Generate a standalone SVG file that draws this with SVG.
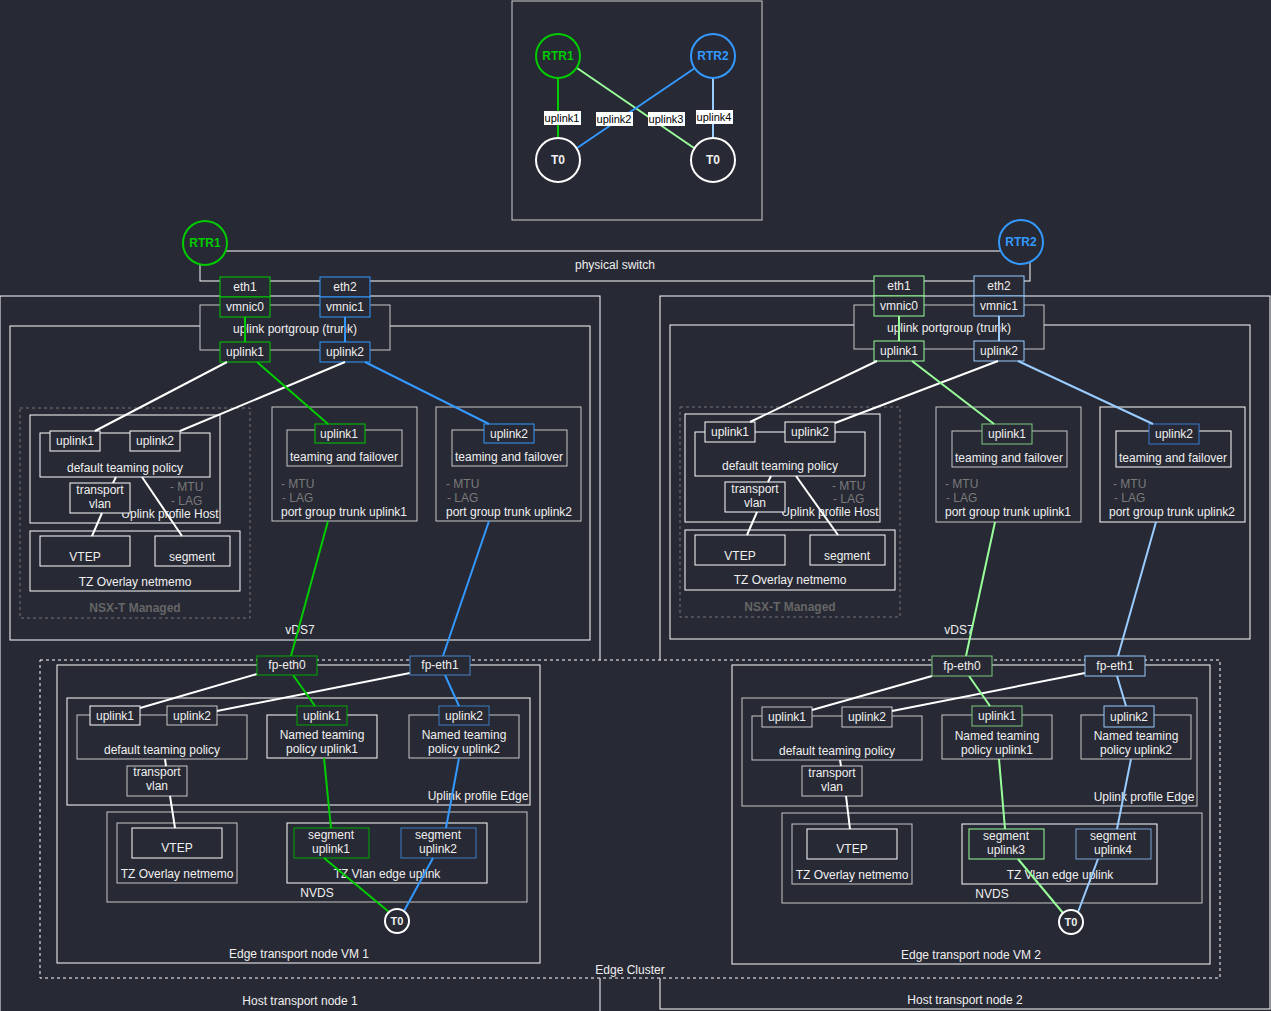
<svg xmlns="http://www.w3.org/2000/svg" width="1271" height="1011" viewBox="0 0 1271 1011">
<style>
.bx{fill:#272934;stroke:#ffffff;stroke-width:1}
.gb{fill:#272934;stroke:#c8c8c8;stroke-width:1}
.ds{fill:#272934;stroke:#ffffff;stroke-width:1;stroke-dasharray:3 3}
.nsx{fill:none;stroke:#777;stroke-width:1;stroke-dasharray:3 3}
.t{fill:#f0f0f0;font-family:"Liberation Sans",Arial,sans-serif;font-size:12px;text-anchor:middle;dominant-baseline:central}
.tl{fill:#7a7a7a;font-family:"Liberation Sans",Arial,sans-serif;font-size:12px;text-anchor:start;dominant-baseline:central}
.lb{fill:#000;font-family:"Liberation Sans",Arial,sans-serif;font-size:11px;text-anchor:middle;dominant-baseline:central}
.bold{font-weight:bold}
.ln{fill:none;stroke-width:2}
.w{stroke:#ffffff}
.G{stroke:#00cc00}
.B{stroke:#3399ff}
.LG{stroke:#99ff99}
.LB{stroke:#99ccff}
</style>
<rect x="0" y="0" width="1271" height="1011" fill="#272934"/>

<!-- top overview -->
<g id="overview">
<rect x="512" y="1" width="250" height="219" fill="none" stroke="#d0d0d0" stroke-width="1"/>
</g>
<g id="top-links">
<line class="ln G" x1="558" y1="78" x2="558" y2="138"/>
<line class="ln LG" x1="577" y1="68" x2="694" y2="148"/>
<line class="ln B" x1="695" y1="68" x2="577" y2="148"/>
<line class="ln LB" x1="713" y1="78" x2="713" y2="138"/>
<rect x="544" y="111" width="37" height="14" fill="#fff"/><text class="lb" x="562" y="118">uplink1</text>
<rect x="596" y="112" width="37" height="14" fill="#fff"/><text class="lb" x="614" y="119">uplink2</text>
<rect x="648" y="112" width="37" height="14" fill="#fff"/><text class="lb" x="666" y="119">uplink3</text>
<rect x="696" y="110" width="37" height="14" fill="#fff"/><text class="lb" x="714" y="117">uplink4</text>
</g>
<g id="top-rtr1"><circle cx="558" cy="56" r="22" fill="#272934" stroke="#00cc00" stroke-width="2"/><text class="t bold" x="558" y="56" style="fill:#00cc00">RTR1</text></g>
<g id="top-rtr2"><circle cx="713" cy="56" r="22" fill="#272934" stroke="#3399ff" stroke-width="2"/><text class="t bold" x="713" y="56" style="fill:#3399ff">RTR2</text></g>
<g id="top-t0a"><circle cx="558" cy="160" r="22" fill="#272934" stroke="#fff" stroke-width="2"/><text class="t bold" x="558" y="160">T0</text></g>
<g id="top-t0b"><circle cx="713" cy="160" r="22" fill="#272934" stroke="#fff" stroke-width="2"/><text class="t bold" x="713" y="160">T0</text></g>

<!-- physical switch -->
<g id="physical-switch"><rect class="bx" x="200" y="251" width="830" height="30"/><text class="t" x="615" y="265">physical switch</text></g>
<g id="rtr1"><circle cx="205" cy="243" r="22" fill="#272934" stroke="#00cc00" stroke-width="2"/><text class="t bold" x="205" y="243" style="fill:#00cc00">RTR1</text></g>
<g id="rtr2"><circle cx="1021" cy="242" r="22" fill="#272934" stroke="#3399ff" stroke-width="2"/><text class="t bold" x="1021" y="242" style="fill:#3399ff">RTR2</text></g>

<!-- Host transport nodes -->
<g id="host1"><rect class="bx" x="0" y="296" width="600" height="720"/><text class="t" x="300" y="1001">Host transport node 1</text></g>
<g id="host2"><rect class="bx" x="660" y="296" width="610" height="713"/><text class="t" x="965" y="1000">Host transport node 2</text></g>

<!-- host1 vDS -->
<g id="vds1"><rect class="bx" x="10" y="326" width="580" height="314"/><text class="t" x="300" y="630">vDS7</text></g>
<g id="pg-trunk1"><rect class="gb" x="200" y="305" width="190" height="45"/><text class="t" x="295" y="329">uplink portgroup (trunk)</text></g>
<g id="h1-eth1"><rect class="bx" x="220" y="277" width="50" height="20" style="stroke:#00cc00"/><text class="t" x="245" y="287">eth1</text></g>
<g id="h1-eth2"><rect class="bx" x="320" y="277" width="50" height="20" style="stroke:#3399ff"/><text class="t" x="345" y="287">eth2</text></g>
<g id="h1-vmnic0"><rect class="bx" x="220" y="297" width="50" height="20" style="stroke:#00cc00"/><text class="t" x="245" y="307">vmnic0</text></g>
<g id="h1-vmnic1"><rect class="bx" x="320" y="297" width="50" height="20" style="stroke:#3399ff"/><text class="t" x="345" y="307">vmnic1</text></g>
<g id="h1-uplink1"><rect class="bx" x="220" y="342" width="50" height="20" style="stroke:#00cc00"/><text class="t" x="245" y="352">uplink1</text></g>
<g id="h1-uplink2"><rect class="bx" x="320" y="342" width="50" height="20" style="stroke:#3399ff"/><text class="t" x="345" y="352">uplink2</text></g>

<g id="h1-nsx"><rect class="nsx" x="20" y="408" width="230" height="210"/><text class="t bold" x="135" y="608" style="fill:#666">NSX-T Managed</text></g>
<g id="h1-upprofile"><rect class="bx" x="30" y="415" width="190" height="108"/>
<text class="tl" x="170" y="487">- MTU</text><text class="tl" x="171" y="501">- LAG</text>
<text class="t" x="170" y="514">Uplink profile Host</text></g>
<g id="h1-default"><rect class="bx" x="40" y="433" width="170" height="44"/><text class="t" x="125" y="468">default teaming policy</text></g>
<g id="h1-du1"><rect class="bx" x="50" y="431" width="50" height="20"/><text class="t" x="75" y="441">uplink1</text></g>
<g id="h1-du2"><rect class="bx" x="130" y="431" width="50" height="20"/><text class="t" x="155" y="441">uplink2</text></g>
<g id="h1-tvlan"><rect class="bx" x="70" y="483" width="60" height="30"/><text class="t" x="100" y="490">transport</text><text class="t" x="100" y="504">vlan</text></g>
<g id="h1-tz"><rect class="bx" x="30" y="531" width="210" height="60"/><text class="t" x="135" y="582">TZ Overlay netmemo</text></g>
<g id="h1-vtep"><rect class="bx" x="40" y="536" width="90" height="30"/><text class="t" x="85" y="557">VTEP</text></g>
<g id="h1-seg"><rect class="bx" x="155" y="536" width="75" height="30"/><text class="t" x="192" y="557">segment</text></g>

<g id="h1-pgu1"><rect class="gb" x="272" y="407" width="145" height="114"/>
<text class="tl" x="281" y="484">- MTU</text><text class="tl" x="282" y="498">- LAG</text>
<text class="t" x="344" y="512">port group trunk uplink1</text></g>
<g id="h1-tf1"><rect class="gb" x="287" y="430" width="115" height="36"/><text class="t" x="344" y="457">teaming and failover</text></g>
<g id="h1-tfu1"><rect class="bx" x="315" y="424" width="50" height="19" style="stroke:#00cc00"/><text class="t" x="339" y="434">uplink1</text></g>
<g id="h1-pgu2"><rect class="gb" x="436" y="407" width="145" height="114"/>
<text class="tl" x="446" y="484">- MTU</text><text class="tl" x="447" y="498">- LAG</text>
<text class="t" x="509" y="512">port group trunk uplink2</text></g>
<g id="h1-tf2"><rect class="gb" x="452" y="430" width="115" height="36"/><text class="t" x="509" y="457">teaming and failover</text></g>
<g id="h1-tfu2"><rect class="bx" x="484" y="424" width="50" height="19" style="stroke:#3399ff"/><text class="t" x="509" y="434">uplink2</text></g>

<!-- host2 vDS -->
<g id="vds2"><rect class="bx" x="670" y="325" width="580" height="314"/><text class="t" x="959" y="630">vDS7</text></g>
<g id="pg-trunk2"><rect class="gb" x="854" y="305" width="190" height="44"/><text class="t" x="949" y="328">uplink portgroup (trunk)</text></g>
<g id="h2-eth1"><rect class="bx" x="874" y="276" width="50" height="20" style="stroke:#99ff99"/><text class="t" x="899" y="286">eth1</text></g>
<g id="h2-eth2"><rect class="bx" x="974" y="276" width="50" height="20" style="stroke:#99ccff"/><text class="t" x="999" y="286">eth2</text></g>
<g id="h2-vmnic0"><rect class="bx" x="874" y="296" width="50" height="20" style="stroke:#99ff99"/><text class="t" x="899" y="306">vmnic0</text></g>
<g id="h2-vmnic1"><rect class="bx" x="974" y="296" width="50" height="20" style="stroke:#99ccff"/><text class="t" x="999" y="306">vmnic1</text></g>
<g id="h2-uplink1"><rect class="bx" x="874" y="341" width="50" height="20" style="stroke:#99ff99"/><text class="t" x="899" y="351">uplink1</text></g>
<g id="h2-uplink2"><rect class="bx" x="974" y="341" width="50" height="20" style="stroke:#99ccff"/><text class="t" x="999" y="351">uplink2</text></g>

<g id="h2-nsx"><rect class="nsx" x="680" y="407" width="220" height="210"/><text class="t bold" x="790" y="607" style="fill:#666">NSX-T Managed</text></g>
<g id="h2-upprofile"><rect class="bx" x="685" y="414" width="195" height="108"/>
<text class="tl" x="832" y="486">- MTU</text><text class="tl" x="833" y="499">- LAG</text>
<text class="t" x="830" y="512">Uplink profile Host</text></g>
<g id="h2-default"><rect class="bx" x="695" y="432" width="170" height="44"/><text class="t" x="780" y="466">default teaming policy</text></g>
<g id="h2-du1"><rect class="bx" x="705" y="422" width="50" height="20"/><text class="t" x="730" y="432">uplink1</text></g>
<g id="h2-du2"><rect class="bx" x="785" y="422" width="50" height="20"/><text class="t" x="810" y="432">uplink2</text></g>
<g id="h2-tvlan"><rect class="bx" x="725" y="482" width="60" height="30"/><text class="t" x="755" y="489">transport</text><text class="t" x="755" y="503">vlan</text></g>
<g id="h2-tz"><rect class="bx" x="685" y="530" width="210" height="60"/><text class="t" x="790" y="580">TZ Overlay netmemo</text></g>
<g id="h2-vtep"><rect class="bx" x="695" y="535" width="90" height="30"/><text class="t" x="740" y="556">VTEP</text></g>
<g id="h2-seg"><rect class="bx" x="810" y="535" width="75" height="30"/><text class="t" x="847" y="556">segment</text></g>

<g id="h2-pgu1"><rect class="gb" x="936" y="407" width="145" height="115"/>
<text class="tl" x="945" y="484">- MTU</text><text class="tl" x="946" y="498">- LAG</text>
<text class="t" x="1008" y="512">port group trunk uplink1</text></g>
<g id="h2-tf1"><rect class="gb" x="952" y="431" width="115" height="36"/><text class="t" x="1009" y="458">teaming and failover</text></g>
<g id="h2-tfu1"><rect class="bx" x="982" y="424" width="50" height="20" style="stroke:#82c882"/><text class="t" x="1007" y="434">uplink1</text></g>
<g id="h2-pgu2"><rect class="bx" x="1100" y="407" width="145" height="115"/>
<text class="tl" x="1113" y="484">- MTU</text><text class="tl" x="1114" y="498">- LAG</text>
<text class="t" x="1172" y="512">port group trunk uplink2</text></g>
<g id="h2-tf2"><rect class="bx" x="1116" y="431" width="115" height="36"/><text class="t" x="1173" y="458">teaming and failover</text></g>
<g id="h2-tfu2"><rect class="bx" x="1149" y="424" width="50" height="20" style="stroke:#3a7bd5"/><text class="t" x="1174" y="434">uplink2</text></g>

<!-- Edge cluster -->
<g id="edge-cluster"><rect class="ds" x="40" y="660" width="1180" height="318"/><text class="t" x="630" y="970">Edge Cluster</text></g>

<!-- Edge VM 1 -->
<g id="edge1"><rect class="bx" x="57" y="665" width="483" height="298"/><text class="t" x="299" y="954">Edge transport node VM 1</text></g>
<g id="e1-upprofile"><rect class="bx" x="67" y="698" width="463" height="107"/><text class="t" x="478" y="796">Uplink profile Edge</text></g>
<g id="e1-default"><rect class="gb" x="77" y="715" width="170" height="44"/><text class="t" x="162" y="750">default teaming policy</text></g>
<g id="e1-du1"><rect class="bx" x="90" y="706" width="50" height="19"/><text class="t" x="115" y="716">uplink1</text></g>
<g id="e1-du2"><rect class="gb" x="167" y="706" width="50" height="19"/><text class="t" x="192" y="716">uplink2</text></g>
<g id="e1-tvlan"><rect class="gb" x="127" y="766" width="60" height="30"/><text class="t" x="157" y="772">transport</text><text class="t" x="157" y="786">vlan</text></g>
<g id="e1-ntp1"><rect class="bx" x="267" y="715" width="110" height="43"/><text class="t" x="322" y="735">Named teaming</text><text class="t" x="322" y="749">policy uplink1</text></g>
<g id="e1-nu1"><rect class="bx" x="297" y="706" width="50" height="19" style="stroke:#00aa00"/><text class="t" x="322" y="716">uplink1</text></g>
<g id="e1-ntp2"><rect class="gb" x="409" y="715" width="110" height="43"/><text class="t" x="464" y="735">Named teaming</text><text class="t" x="464" y="749">policy uplink2</text></g>
<g id="e1-nu2"><rect class="bx" x="439" y="706" width="50" height="19" style="stroke:#3d7fc1"/><text class="t" x="464" y="716">uplink2</text></g>
<g id="e1-nvds"><rect class="gb" x="107" y="812" width="420" height="90"/><text class="t" x="317" y="893">NVDS</text></g>
<g id="e1-tzo"><rect class="gb" x="117" y="823" width="120" height="60"/><text class="t" x="177" y="874">TZ Overlay netmemo</text></g>
<g id="e1-vtep"><rect class="bx" x="132" y="828" width="90" height="30"/><text class="t" x="177" y="848">VTEP</text></g>
<g id="e1-tzv"><rect class="bx" x="287" y="823" width="200" height="60"/><text class="t" x="387" y="874">TZ Vlan edge uplink</text></g>
<g id="e1-seg1"><rect class="bx" x="294" y="828" width="75" height="30" style="stroke:#00aa00"/><text class="t" x="331" y="835">segment</text><text class="t" x="331" y="849">uplink1</text></g>
<g id="e1-seg2"><rect class="bx" x="401" y="828" width="75" height="30" style="stroke:#3d7fc1"/><text class="t" x="438" y="835">segment</text><text class="t" x="438" y="849">uplink2</text></g>

<!-- Edge VM 2 -->
<g id="edge2"><rect class="bx" x="732" y="665" width="478" height="299"/><text class="t" x="971" y="955">Edge transport node VM 2</text></g>
<g id="e2-upprofile"><rect class="gb" x="742" y="698" width="455" height="108"/><text class="t" x="1144" y="797">Uplink profile Edge</text></g>
<g id="e2-default"><rect class="gb" x="752" y="716" width="170" height="44"/><text class="t" x="837" y="751">default teaming policy</text></g>
<g id="e2-du1"><rect class="gb" x="762" y="707" width="50" height="20"/><text class="t" x="787" y="717">uplink1</text></g>
<g id="e2-du2"><rect class="gb" x="842" y="707" width="50" height="20"/><text class="t" x="867" y="717">uplink2</text></g>
<g id="e2-tvlan"><rect class="gb" x="802" y="766" width="60" height="30"/><text class="t" x="832" y="773">transport</text><text class="t" x="832" y="787">vlan</text></g>
<g id="e2-ntp1"><rect class="gb" x="942" y="715" width="110" height="44"/><text class="t" x="997" y="736">Named teaming</text><text class="t" x="997" y="750">policy uplink1</text></g>
<g id="e2-nu1"><rect class="bx" x="972" y="706" width="50" height="20" style="stroke:#7ec87e"/><text class="t" x="997" y="716">uplink1</text></g>
<g id="e2-ntp2"><rect class="gb" x="1081" y="715" width="110" height="44"/><text class="t" x="1136" y="736">Named teaming</text><text class="t" x="1136" y="750">policy uplink2</text></g>
<g id="e2-nu2"><rect class="bx" x="1104" y="706" width="50" height="21" style="stroke:#99ccff"/><text class="t" x="1129" y="717">uplink2</text></g>
<g id="e2-nvds"><rect class="gb" x="782" y="813" width="420" height="90"/><text class="t" x="992" y="894">NVDS</text></g>
<g id="e2-tzo"><rect class="gb" x="792" y="824" width="120" height="60"/><text class="t" x="852" y="875">TZ Overlay netmemo</text></g>
<g id="e2-vtep"><rect class="bx" x="807" y="829" width="90" height="30"/><text class="t" x="852" y="849">VTEP</text></g>
<g id="e2-tzv"><rect class="bx" x="962" y="824" width="195" height="60"/><text class="t" x="1060" y="875">TZ Vlan edge uplink</text></g>
<g id="e2-seg3"><rect class="bx" x="969" y="829" width="75" height="30" style="stroke:#99ff99"/><text class="t" x="1006" y="836">segment</text><text class="t" x="1006" y="850">uplink3</text></g>
<g id="e2-seg4"><rect class="bx" x="1076" y="829" width="75" height="30" style="stroke:#7ea6d8"/><text class="t" x="1113" y="836">segment</text><text class="t" x="1113" y="850">uplink4</text></g>

<!-- connectors -->
<g id="connectors">
<!-- host1 -->
<line class="ln G" x1="245" y1="317" x2="245" y2="342"/>
<line class="ln B" x1="345" y1="317" x2="345" y2="342"/>
<line class="ln w" x1="227" y1="362" x2="95" y2="431"/>
<line class="ln w" x1="345" y1="362" x2="180" y2="431"/>
<line class="ln G" x1="257" y1="362" x2="328" y2="424"/>
<line class="ln B" x1="365" y1="362" x2="489" y2="424"/>
<line class="ln w" x1="116" y1="477" x2="113" y2="483"/>
<line class="ln w" x1="102" y1="513" x2="92" y2="536"/>
<line class="ln w" x1="142" y1="477" x2="182" y2="536"/>
<line class="ln G" x1="328" y1="521" x2="291" y2="656"/>
<line class="ln B" x1="489" y1="521" x2="443" y2="656"/>
<!-- host2 -->
<line class="ln LG" x1="899" y1="316" x2="899" y2="341"/>
<line class="ln LB" x1="999" y1="316" x2="999" y2="341"/>
<line class="ln w" x1="877" y1="361" x2="750" y2="422"/>
<line class="ln w" x1="998" y1="361" x2="835" y2="423"/>
<line class="ln LG" x1="912" y1="361" x2="994" y2="424"/>
<line class="ln LB" x1="1018" y1="361" x2="1153" y2="424"/>
<line class="ln w" x1="771" y1="476" x2="768" y2="482"/>
<line class="ln w" x1="757" y1="512" x2="747" y2="535"/>
<line class="ln w" x1="796" y1="476" x2="838" y2="535"/>
<line class="ln LG" x1="995" y1="522" x2="966" y2="656"/>
<line class="ln LB" x1="1156" y1="522" x2="1118" y2="656"/>
<!-- edge1 -->
<line class="ln w" x1="257" y1="674" x2="140" y2="708"/>
<line class="ln w" x1="410" y1="673" x2="217" y2="711"/>
<line class="ln G" x1="293" y1="675" x2="315" y2="706"/>
<line class="ln B" x1="445" y1="675" x2="459" y2="706"/>
<line class="ln G" x1="324" y1="758" x2="331" y2="828"/>
<line class="ln B" x1="459" y1="758" x2="446" y2="828"/>
<line class="ln G" x1="324" y1="858" x2="389" y2="912"/>
<line class="ln B" x1="433" y1="858" x2="404" y2="911"/>
<line class="ln w" x1="165" y1="759" x2="166" y2="766"/>
<line class="ln w" x1="170" y1="796" x2="175" y2="828"/>
<!-- edge2 -->
<line class="ln w" x1="932" y1="676" x2="812" y2="710"/>
<line class="ln w" x1="1085" y1="673" x2="892" y2="711"/>
<line class="ln LG" x1="969" y1="676" x2="990" y2="706"/>
<line class="ln LB" x1="1117" y1="676" x2="1126" y2="706"/>
<line class="ln LG" x1="999" y1="759" x2="1005" y2="829"/>
<line class="ln LB" x1="1131" y1="759" x2="1117" y2="829"/>
<line class="ln LG" x1="1018" y1="859" x2="1063" y2="913"/>
<line class="ln LB" x1="1098" y1="859" x2="1078" y2="912"/>
<line class="ln w" x1="840" y1="760" x2="841" y2="766"/>
<line class="ln w" x1="846" y1="796" x2="850" y2="829"/>
</g>

<!-- nodes drawn above connector ends -->
<g id="fp-eth0-1"><rect class="bx" x="257" y="656" width="60" height="19" style="stroke:#00aa00"/><text class="t" x="287" y="665">fp-eth0</text></g>
<g id="fp-eth1-1"><rect class="bx" x="410" y="656" width="60" height="19" style="stroke:#4a86c8"/><text class="t" x="440" y="665">fp-eth1</text></g>
<g id="fp-eth0-2"><rect class="bx" x="932" y="656" width="60" height="20" style="stroke:#7ec87e"/><text class="t" x="962" y="666">fp-eth0</text></g>
<g id="fp-eth1-2"><rect class="bx" x="1085" y="656" width="60" height="20" style="stroke:#99ccff"/><text class="t" x="1115" y="666">fp-eth1</text></g>
<g id="t0-e1"><circle cx="397" cy="921" r="12" fill="#272934" stroke="#fff" stroke-width="2"/><text class="t bold" x="397" y="921" style="font-size:11px">T0</text></g>
<g id="t0-e2"><circle cx="1071" cy="922" r="12" fill="#272934" stroke="#fff" stroke-width="2"/><text class="t bold" x="1071" y="922" style="font-size:11px">T0</text></g>
</svg>
